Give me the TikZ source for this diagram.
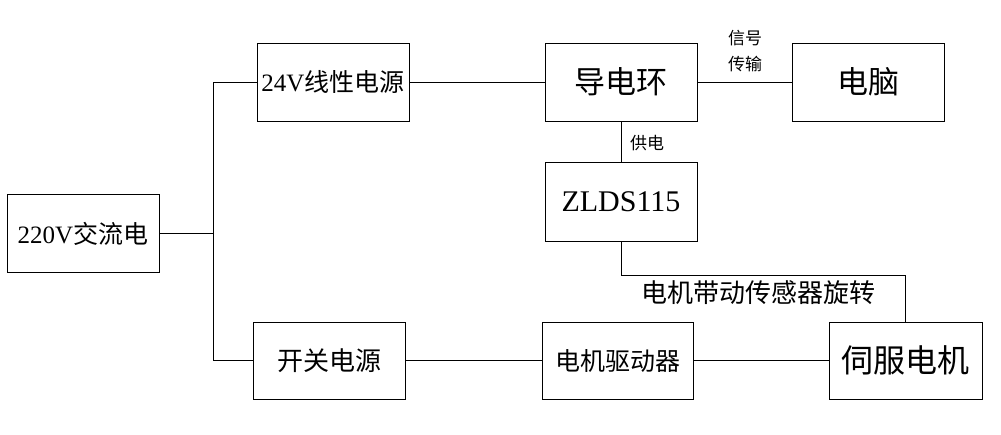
\documentclass[tikz,border=0pt]{standalone}
\usepackage{fontspec}
\setmainfont{Liberation Serif}
\newfontfamily\cjk{Noto Sans CJK SC}
\newcommand{\fs}[1]{\fontsize{#1}{#1}\selectfont}
\begin{document}
\begin{tikzpicture}[x=1pt,y=-1pt,
  blk/.style={draw=black,line width=1pt,minimum width=152pt,minimum height=78pt,inner sep=0pt,anchor=center},
  wire/.style={draw=black,line width=1pt},
  lbl/.style={inner sep=0pt,anchor=center}]
\useasboundingbox (0,0) rectangle (1001,434);
\node[blk] (ac) at (83,233.5) {\fs{25}220V\cjk 交流电};
\node[blk] (p24) at (333,82) {\fs{25}24V\cjk 线性电源};
\node[blk] (ring) at (621,82) {\fs{31}\cjk 导电环};
\node[blk] (pc) at (868,82) {\fs{31}\cjk 电脑};
\node[blk,minimum height=79pt] (zlds) at (621,201.5) {\fs{30}ZLDS115};
\node[blk,minimum height=77pt] (sw) at (329,360.5) {\fs{26}\cjk 开关电源};
\node[blk,minimum width=151pt,minimum height=77pt] (drv) at (617.5,360.5) {\fs{25}\cjk 电机驱动器};
\node[blk,minimum width=153pt,minimum height=77pt] (servo) at (905.5,360.5) {\fs{32}\cjk 伺服电机};
\coordinate (tk) at (213,233.5);
\coordinate (bend) at (621,275);
\draw[wire] (ac.east) -- (tk);
\draw[wire] (p24.west) -| (tk);
\draw[wire] (sw.west) -| (tk);
\draw[wire] (p24.east) -- (ring.west);
\draw[wire] (ring.east) -- (pc.west);
\draw[wire] (ring.south) -- (zlds.north);
\draw[wire] (zlds.south) -- (bend) -| (servo.north);
\draw[wire] (sw.east) -- (drv.west);
\draw[wire] (drv.east) -- (servo.west);
\node[lbl] (sig1) at (745,38) {\fs{17}\cjk 信号};
\node[lbl] (sig2) at (745,64) {\fs{17}\cjk 传输};
\node[lbl] (gd) at (647,143) {\fs{17}\cjk 供电};
\node[lbl] (rot) at (758,293) {\fs{26}\cjk 电机带动传感器旋转};
\end{tikzpicture}
\end{document}
